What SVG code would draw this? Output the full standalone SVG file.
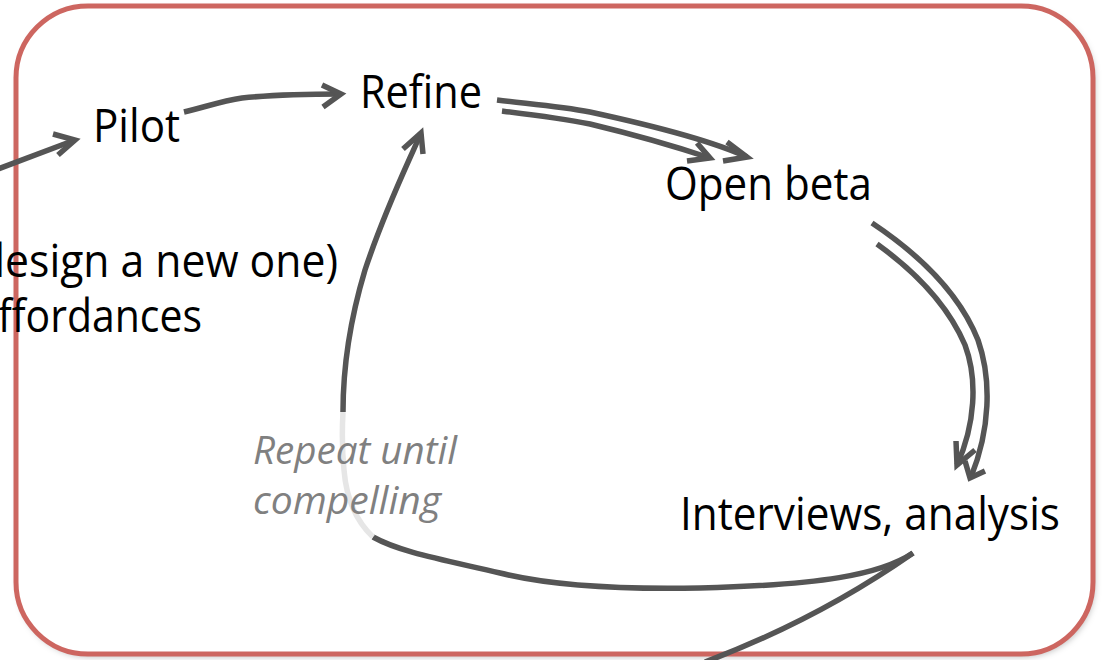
<svg xmlns="http://www.w3.org/2000/svg" width="1105" height="660" viewBox="0 0 1105 660">
  <defs>
    <filter id="shadow" x="-5%" y="-5%" width="110%" height="110%">
      <feDropShadow dx="2" dy="3" stdDeviation="3" flood-color="#000" flood-opacity="0.25"/>
    </filter>
  </defs>
  <style>
    .frame { fill: none; stroke: #CD6660; stroke-width: 5; }
    .label { font-family: "Open Sans", "Liberation Sans", sans-serif; font-size: 46px; fill: #000; }
    .note { font-family: "Open Sans", "Liberation Sans", sans-serif; font-size: 38px; font-style: italic; fill: #808080; }
    .wire { fill: none; stroke: #555555; stroke-width: 5.5; stroke-linecap: butt; stroke-linejoin: miter; }
    .faded { fill: none; stroke: #E6E6E6; stroke-width: 5.5; }
  </style>

  <rect x="16" y="6" width="1077" height="648" rx="72" ry="72" fill="#fff" filter="url(#shadow)"/>
  <rect class="frame" x="16" y="6" width="1077" height="648" rx="72" ry="72"/>

  <g id="connectors">
    <!-- incoming to Pilot -->
    <path class="wire" d="M -2 169 L 75 140"/>
    <path class="wire" d="M 53 134 L 75 140 L 58 155"/>
    <!-- Pilot to Refine -->
    <path class="wire" d="M 184 112 C 205 107 222 101 242 98 C 280 94 315 94 341 94"/>
    <path class="wire" d="M 322 85 L 341 94 L 323 107"/>
    <!-- Refine to Open beta, doubled -->
    <path class="wire" d="M 497 100 C 530 104 560 106 590 112 C 650 125 710 140 747 157"/>
    <path class="wire" d="M 727 142 L 747 157 L 723 161"/>
    <path class="wire" d="M 502 111 C 535 115 560 118 590 124 C 640 136 680 148 710 158"/>
    <path class="wire" d="M 697 143 L 710 158 L 687 161"/>
    <!-- Open beta to Interviews, doubled -->
    <path class="wire" d="M 872 223 C 920 255 960 295 978 340 C 992 380 990 430 971 477"/>
    <path class="wire" d="M 965 461 L 970 478 L 985 471"/>
    <path class="wire" d="M 877 244 C 920 275 950 310 965 345 C 978 380 975 425 957 465"/>
    <path class="wire" d="M 956 441 L 957 465 L 975 450"/>
    <!-- Interviews branches: off the bottom, and the loop back to Refine -->
    <path class="wire" d="M 705 662 C 790 630 860 590 913 553"/>
    <path class="wire" d="M 913 553 C 880 575 820 585 700 588 C 600 590 540 583 500 573 C 440 559 400 552 373 537"/>
    <path class="faded" d="M 373 537 C 355 520 346 495 344 470 C 342 450 342 430 343 412"/>
    <path class="wire" d="M 343 412 C 343 370 350 320 365 270 C 385 210 405 170 421 133"/>
    <path class="wire" d="M 403 149 L 421 133 L 423 154"/>
  </g>

  <g id="node-pilot"><text class="label" x="93" y="142" textLength="87" lengthAdjust="spacingAndGlyphs">Pilot</text></g>
  <g id="node-refine"><text class="label" x="360" y="108" textLength="122" lengthAdjust="spacingAndGlyphs">Refine</text></g>
  <g id="node-open-beta"><text class="label" x="665" y="200" textLength="207" lengthAdjust="spacingAndGlyphs">Open beta</text></g>
  <g id="node-interviews"><text class="label" x="680" y="530" textLength="380" lengthAdjust="spacingAndGlyphs">Interviews, analysis</text></g>
  <g id="node-design">
    <text class="label" x="-21" y="277" textLength="359" lengthAdjust="spacingAndGlyphs">design a new one)</text>
    <text class="label" x="-2" y="332" textLength="204" lengthAdjust="spacingAndGlyphs">ffordances</text>
  </g>
  <g id="loop-note">
    <text class="note" x="253" y="464" textLength="204" lengthAdjust="spacingAndGlyphs">Repeat until</text>
    <text class="note" x="253" y="514" textLength="188" lengthAdjust="spacingAndGlyphs">compelling</text>
  </g>
</svg>
